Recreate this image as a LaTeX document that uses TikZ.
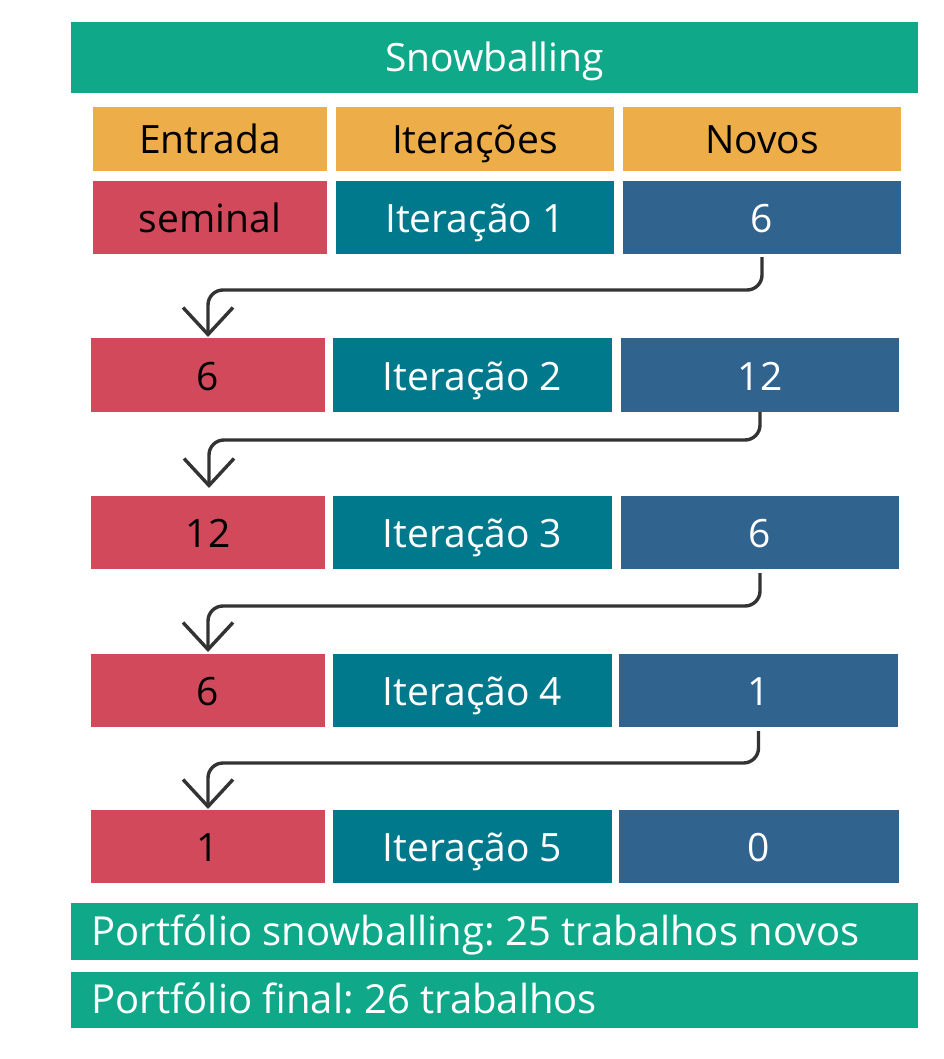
\documentclass[tikz,border=0pt]{standalone}
\usepackage{fontspec}
\setmainfont{Open Sans}
\usetikzlibrary{arrows.meta}
\definecolor{cgreen}{HTML}{0FA888}
\definecolor{corange}{HTML}{EDAE49}
\definecolor{cred}{HTML}{D1495B}
\definecolor{cteal}{HTML}{00798C}
\definecolor{cblue}{HTML}{30638E}
\definecolor{carrow}{HTML}{333333}
\newcommand\mycell[7]{\node[#2,minimum width={(#5-#3)*1pt},minimum height={(#6-#4)*1pt}] (#1) at ({(#3+#5)/2},{(#4+#6)/2}) {#7};}
\frenchspacing
\begin{document}
\begin{tikzpicture}[x=1pt,y=-1pt,
  base/.style={inner sep=0pt,outer sep=0pt,font=\fontsize{39}{46}\selectfont\frenchspacing,text height=30pt,text depth=0pt,anchor=center},
  titlebox/.style={base,fill=cgreen,text=white,text height=29pt},
  headbox/.style={base,fill=corange,text=black},
  inbox/.style={base,fill=cred,text=black},
  itbox/.style={base,fill=cteal,text=white},
  newbox/.style={base,fill=cblue,text=white},
  sumbox/.style={base,fill=cgreen},
  sumtext/.style={base,text=white,anchor=west,text height=27.5pt,font=\fontsize{40}{46}\selectfont\frenchspacing},
  flow/.style={draw=carrow,line width=3.4pt,rounded corners=15pt,-{Straight Barb[length=27pt,width=50pt,line width=3.4pt]}}
]
\useasboundingbox (0,0) rectangle (944,1059);
\fill[white] (0,0) rectangle (944,1059);
\mycell{title}{titlebox}{71}{22}{918}{93}{Snowballing}
\mycell{h1}{headbox}{93}{107}{327}{171}{Entrada}
\mycell{h2}{headbox}{336}{107}{614}{171}{Iterações}
\mycell{h3}{headbox}{623}{107}{901}{171}{Novos}
\mycell{e1}{inbox}{93}{181}{327}{254}{seminal}
\mycell{i1}{itbox}{336}{181}{614}{254}{Iteração 1}
\mycell{n1}{newbox}{623}{181}{901}{254}{6}
\mycell{e2}{inbox}{91}{338}{325}{412}{6}
\mycell{i2}{itbox}{333}{338}{612}{412}{Iteração 2}
\mycell{n2}{newbox}{621}{338}{899}{412}{12}
\mycell{e3}{inbox}{91}{496}{325}{569}{12}
\mycell{i3}{itbox}{333}{496}{612}{569}{Iteração 3}
\mycell{n3}{newbox}{621}{496}{899}{569}{6}
\mycell{e4}{inbox}{91}{654}{325}{727}{6}
\mycell{i4}{itbox}{333}{654}{612}{727}{Iteração 4}
\mycell{n4}{newbox}{619}{654}{898}{727}{1}
\mycell{e5}{inbox}{91}{810}{325}{883}{1}
\mycell{i5}{itbox}{333}{810}{612}{883}{Iteração 5}
\mycell{n5}{newbox}{619}{810}{899}{883}{0}
\mycell{s1}{sumbox}{71}{903}{918}{960}{}
\mycell{s2}{sumbox}{71}{972}{918}{1028}{}
\node[sumtext] (t1) at (91.5,931.5) {Portfólio snowballing: 25 trabalhos novos};
\node[sumtext] (t2) at (91.5,1000) {Portfólio final: 26 trabalhos};
\draw[flow] ([yshift=-3pt]n1.south) -- (n1.south |- 0,290) -- (e2.north |- 0,290) -- ([yshift=1pt]e2.north);
\draw[flow] (n2.south) -- (n2.south |- 0,440) -- ([xshift=1pt]e3.north |- 0,440) -- ([xshift=1pt,yshift=8pt]e3.north);
\draw[flow] ([yshift=-4pt]n3.south) -- (n3.south |- 0,606) -- (e4.north |- 0,606) -- ([yshift=2pt]e4.north);
\draw[flow] ([yshift=-4pt]n4.south) -- (n4.south |- 0,763) -- (e5.north |- 0,763) -- ([yshift=1pt]e5.north);
\end{tikzpicture}
\end{document}
